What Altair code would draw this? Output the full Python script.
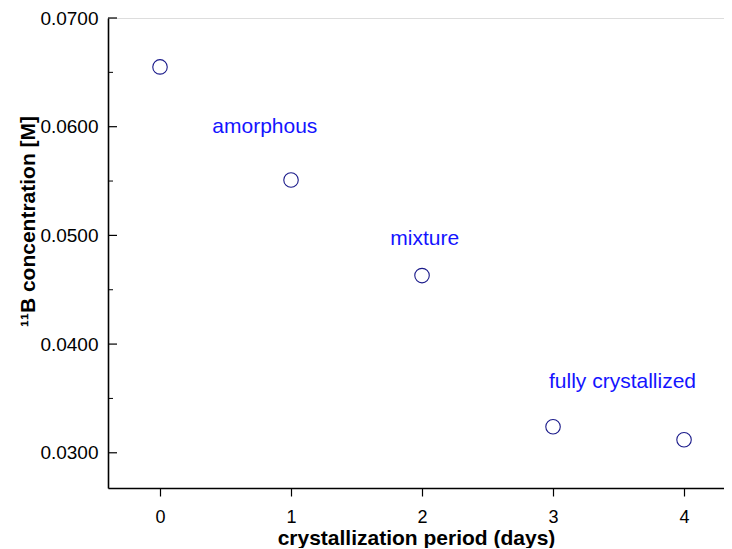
import altair as alt
import pandas as pd

days = [0, 1, 2, 3, 4]
conc = [0.0655, 0.0551, 0.0463, 0.0324, 0.0312]

label_text = ["amorphous", "mixture", "fully crystallized"]
label_x = [0.80, 2.02, 3.53]
label_y = [0.0600, 0.0497, 0.0365]

major_ticks = [0.0300, 0.0400, 0.0500, 0.0600, 0.0700]
minor_ticks = [0.0350, 0.0450, 0.0550, 0.0650]

pts = pd.DataFrame({"days": days, "conc": conc})
lbl = pd.DataFrame({"x": label_x, "y": label_y, "t": label_text})
maj = pd.DataFrame({"v": major_ticks})
mnr = pd.DataFrame({"v": minor_ticks})

FONT = "Liberation Sans"
xs = alt.Scale(domain=[-0.397, 4.305], nice=False, zero=False)
ys = alt.Scale(domain=[0.02676, 0.0700], nice=False, zero=False)

points = alt.Chart(pts).mark_point(
    shape="circle", size=210, filled=False, stroke="#1a1a8a", strokeWidth=1.1, opacity=1
).encode(
    x=alt.X("days:Q", scale=xs, axis=alt.Axis(
        title="crystallization period (days)", values=days, format="d",
        grid=False, tickSize=8, tickColor="black", tickWidth=1.2,
        domainColor="black", domainWidth=1.6, labelPadding=12,
        labelFontSize=18, labelFont=FONT, labelColor="black",
        titleFont=FONT, titleFontSize=21, titleFontWeight="bold", titleColor="black",
        titlePadding=0, titleY=50, titleBaseline="middle")),
    y=alt.Y("conc:Q", scale=ys, axis=alt.Axis(
        title="¹¹B concentration [M]", values=major_ticks, format=".4f",
        grid=False, ticks=False, domainColor="black", domainWidth=1.6,
        labelPadding=10, labelFontSize=19, labelFont=FONT, labelColor="black",
        titleFont=FONT, titleFontSize=21, titleFontWeight="bold", titleColor="black",
        titleAngle=270, titleX=-80, titleY=203, titleAlign="center", titleBaseline="middle")),
)

labels = alt.Chart(lbl).mark_text(
    font=FONT, fontSize=21, color="#1414ff", align="center", baseline="middle"
).encode(x=alt.X("x:Q", scale=xs), y=alt.Y("y:Q", scale=ys), text="t:N")

maj_ticks = alt.Chart(maj).mark_rule(color="black", strokeWidth=1.2).encode(
    y=alt.Y("v:Q", scale=ys), x=alt.value(0), x2=alt.value(9))
mnr_ticks = alt.Chart(mnr).mark_rule(color="black", strokeWidth=1).encode(
    y=alt.Y("v:Q", scale=ys), x=alt.value(0), x2=alt.value(5))

chart = alt.layer(maj_ticks, mnr_ticks, points, labels).properties(
    width=616, height=470,
    autosize=alt.AutoSizeParams(type="none"),
    padding={"left": 100, "top": 10, "right": 0, "bottom": 60},
).configure_view(stroke=None).configure(background="white")

chart.save("out.html", embed_options={"renderer": "svg", "actions": False})
